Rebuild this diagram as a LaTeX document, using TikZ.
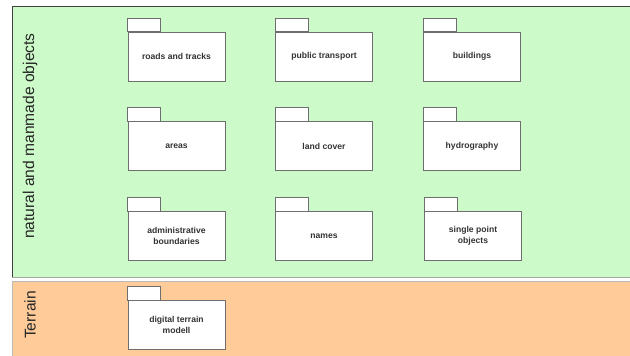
\documentclass[tikz,border=0pt]{standalone}
\usepackage{fontspec}
\setmainfont{Liberation Sans}
\usepackage{xcolor}
\usetikzlibrary{positioning}
\definecolor{natgreen}{RGB}{204,250,200}
\definecolor{terrorange}{RGB}{255,204,153}
\definecolor{pkgline}{RGB}{110,110,110}
\begin{document}
\begin{tikzpicture}[x=1pt, y=-1pt,
  pkg/.style={draw=pkgline, fill=white, line width=0.9pt, minimum width=97pt, minimum height=49pt, inner sep=1pt,
    font=\fontsize{8.6}{11}\selectfont\bfseries, text=black!80, align=center},
  tab/.style={draw=pkgline, fill=white, line width=0.9pt},
  lane/.style={font=\fontsize{15.6}{18}\selectfont, text=black!85, rotate=90}
]
\useasboundingbox (0,0) rectangle (630,356);
% ---- lanes
\fill[natgreen] (12,6) rectangle (630,277);
\draw[black!75, line width=1pt] (12,277) -- (12,6) -- (630,6);
\draw[gray!70, line width=0.8pt] (12,277) -- (630,277);
\fill[terrorange] (12,281) rectangle (630,356);
\draw[gray!55, line width=0.6pt] (12,356) -- (12,281) -- (630,281);
\node[lane] (natlbl) at (30,136) {natural and manmade objects};
\node[lane] (terlbl) at (30,315) {Terrain};
% ---- packages
\node[pkg] (rt) at (176.5,56.5) {roads and tracks};
\node[pkg] (pt) at (324,56.5) {public transport};
\node[pkg] (bu) at (472,56.5) {buildings};
\node[pkg] (ar) at (176.5,146) {areas};
\node[pkg] (lc) at (324,146) {land cover};
\node[pkg] (hy) at (472,146) {hydrography};
\node[pkg] (ab) at (176.5,236) {administrative\\boundaries};
\node[pkg] (na) at (324,236) {names};
\node[pkg] (sp) at (473,236) {single point\\objects};
\node[pkg] (dtm) at (176.5,325) {digital terrain\\modell};
\foreach \n in {rt,pt,bu,ar,lc,hy,ab,na,sp,dtm} { \draw[tab] (\n.north west) rectangle ++(33,-13.5); }
\end{tikzpicture}
\end{document}
